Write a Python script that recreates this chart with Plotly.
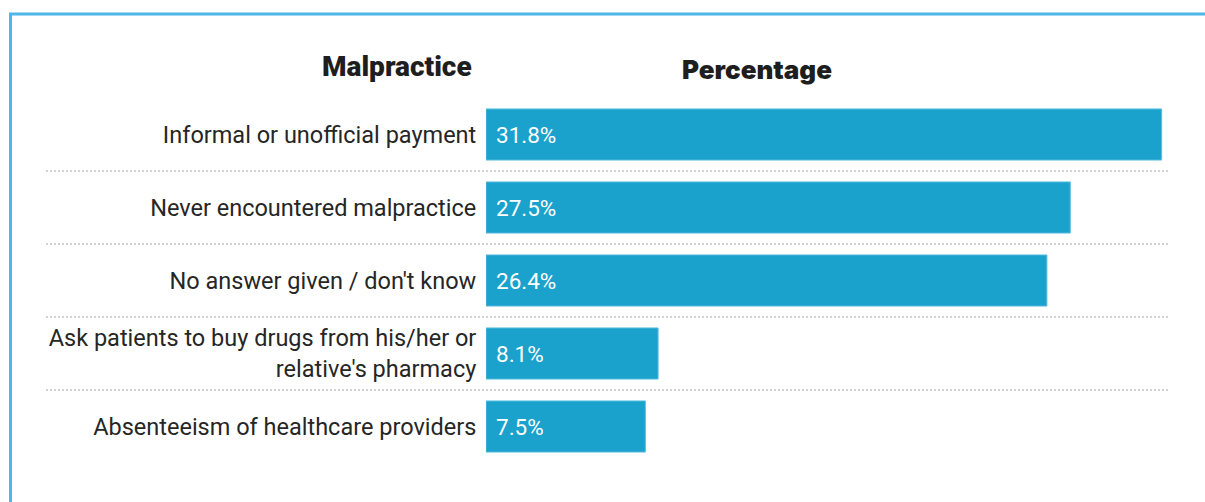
import plotly.graph_objects as go

W, H = 1205, 502

categories = [
    "Informal or unofficial payment",
    "Never encountered malpractice",
    "No answer given / don't know",
    "Ask patients to buy drugs from his/her or<br>relative's pharmacy",
    "Absenteeism of healthcare providers",
]
percentages = [31.8, 27.5, 26.4, 8.1, 7.5]
row_index = list(range(len(categories)))

BAR = "#1aa1cc"
TEXT = "#262626"


def px_x(p):
    return p / W


def px_y(p):
    return 1 - p / H


fig = go.Figure(
    go.Bar(
        x=percentages,
        y=row_index,
        orientation="h",
        width=0.7,
        marker=dict(color=BAR, line=dict(color="#5cbde0", width=1)),
        hoverinfo="skip",
    )
)

# value labels inside the bars, near their base
for i, v in zip(row_index, percentages):
    fig.add_annotation(
        x=0, y=i, xref="x", yref="y", xanchor="left", yanchor="middle",
        xshift=8, text=f"{v}%", showarrow=False,
        font=dict(family="Roboto", size=22.5, color="white"),
    )

# dotted separators between rows
for k in range(len(categories) - 1):
    fig.add_shape(
        type="line", xref="paper", yref="y",
        x0=px_x(46), x1=px_x(1169), y0=k + 0.5, y1=k + 0.5,
        line=dict(color="#d2d2d2", width=2, dash="2px,2px"),
    )

# frame: left and top edges
fig.add_shape(
    type="path", xref="paper", yref="paper",
    path=f"M {px_x(10.5)} 0 L {px_x(10.5)} {px_y(14)} L 1 {px_y(14)}",
    line=dict(color="#4fb6e8", width=3),
)

# column headers
fig.add_annotation(
    x=px_x(474), y=px_y(66), xref="paper", yref="paper",
    xanchor="right", yanchor="middle", text="Malpractice", showarrow=False,
    font=dict(family="Roboto", size=28, color="#1e1e1e", weight=900),
)
fig.add_annotation(
    x=px_x(757), y=px_y(69), xref="paper", yref="paper",
    xanchor="center", yanchor="middle", text="Percentage", showarrow=False,
    font=dict(family="Inter", size=26, color="#1e1e1e", weight=900),
)

fig.update_layout(
    width=W, height=H,
    margin=dict(l=0, r=0, t=0, b=0),
    paper_bgcolor="white", plot_bgcolor="white",
    showlegend=False,
    xaxis=dict(
        domain=[px_x(486), px_x(1168)], range=[0, 32.1],
        visible=False, fixedrange=True,
    ),
    yaxis=dict(
        domain=[px_y(463), px_y(98)], range=[4.5, -0.5],
        tickmode="array", tickvals=row_index, ticktext=categories,
        showgrid=False, zeroline=False, showline=False,
        ticks="outside", ticklen=4, tickcolor="rgba(0,0,0,0)",
        tickfont=dict(family="Roboto", size=23.5, color=TEXT),
        fixedrange=True,
    ),
)

fig.write_html("out.html")
